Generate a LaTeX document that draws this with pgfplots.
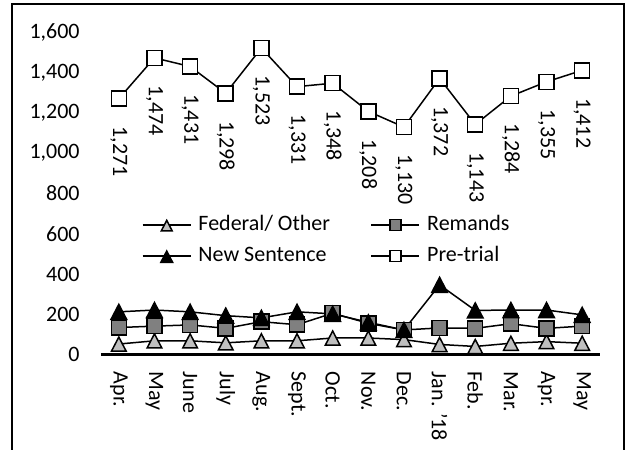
\documentclass[border=0pt]{standalone}
\usepackage{fontspec}
\setmainfont{Carlito}
\usepackage{pgfplots}
\pgfplotsset{compat=1.18}
\definecolor{fedgray}{HTML}{BFBFBF}
\definecolor{remgray}{HTML}{808080}
\begin{document}
\begin{tikzpicture}
\useasboundingbox (-50.5pt,-47.75pt) rectangle (266pt,177.25pt);
\begin{axis}[
  at={(0pt,0pt)}, anchor=south west,
  scale only axis, width=249.5pt, height=161pt,
  xmin=-0.5, xmax=13.5, ymin=0, ymax=1600,
  clip=false,
  axis x line*=bottom, axis y line*=left,
  x axis line style={line width=1.3pt},
  y axis line style={draw=none},
  major tick length=0pt,
  xtick={0,...,13},
  xticklabels={Apr., May, June, July, Aug., Sept., Oct., Nov., Dec., {Jan. '18}, Feb., Mar., Apr., May},
  ytick={0,200,...,1600},
  scaled y ticks=false,
  /pgf/number format/assume math mode=true,
  /pgf/number format/1000 sep={,},
  tick label style={font=\fontsize{11}{13}\selectfont, text=black},
  yticklabel style={anchor=east, inner sep=0pt, xshift=-10.5pt},
  xticklabel style={rotate=-90, anchor=west, inner ysep=0pt, inner xsep=8.5pt},
  legend columns=2,
  legend cell align=left,
  legend style={draw=none, fill=none, inner sep=0pt, outer sep=0pt,
     at={(axis cs:0.65,693)}, anchor=north west,
     font=\fontsize{11}{13}\selectfont,
     row sep=5.5pt,
     nodes={inner sep=0pt, text height=7.5pt, text depth=2.5pt},
     /tikz/every odd column/.style={column sep=3.5pt},
     /tikz/every even column/.style={column sep=20.3pt}},
  legend image code/.code={\draw[mark repeat=2, mark phase=2, every mark/.append style={scale=0.75}] plot coordinates {(0pt,0pt) (12pt,0pt) (24pt,0pt)};},
]
\addplot[black, line width=0.75pt, mark=triangle*, mark size=4.7pt,
  mark options={solid, fill=fedgray, draw=black, line width=0.75pt, yshift=-1.2pt, xscale=0.9}]
  coordinates {(0,52) (1,68) (2,68) (3,58) (4,68) (5,68) (6,82) (7,82) (8,74) (9,50) (10,40) (11,56) (12,64) (13,56)};
\addlegendentry{Federal/ Other}
\addplot[black, line width=0.75pt, mark=square*, mark size=3.75pt,
  mark options={solid, fill=remgray, draw=black, line width=0.75pt}]
  coordinates {(0,134) (1,141) (2,147) (3,130) (4,163) (5,148) (6,205) (7,155) (8,122) (9,132) (10,130) (11,153) (12,130) (13,141)};
\addlegendentry{Remands}
\addplot[black, line width=0.75pt, mark=triangle*, mark size=5pt,
  mark options={solid, fill=black, draw=black, line width=0.75pt, yshift=-1.25pt, xscale=0.9}]
  coordinates {(0,212) (1,221) (2,212) (3,193) (4,182) (5,212) (6,202) (7,160) (8,122) (9,346) (10,219) (11,221) (12,221) (13,197)};
\addlegendentry{New Sentence}
\addplot[black, line width=0.75pt, mark=square*, mark size=3.75pt,
  mark options={solid, fill=white, draw=black, line width=0.75pt},
  nodes near coords, point meta=y,
  every node near coord/.append style={rotate=-90, anchor=west, inner ysep=0pt, inner xsep=13.5pt, font=\fontsize{11}{13}\selectfont, text=black}]
  coordinates {(0,1271) (1,1474) (2,1431) (3,1298) (4,1523) (5,1331) (6,1348) (7,1208) (8,1130) (9,1372) (10,1143) (11,1284) (12,1355) (13,1412)};
\addlegendentry{Pre-trial}
\end{axis}
\draw[line width=1pt] (-44.5pt,-47.75pt) -- (-44.5pt,175.25pt) -- (261.5pt,175.25pt) -- (261.5pt,-47.75pt);
\end{tikzpicture}
\end{document}
